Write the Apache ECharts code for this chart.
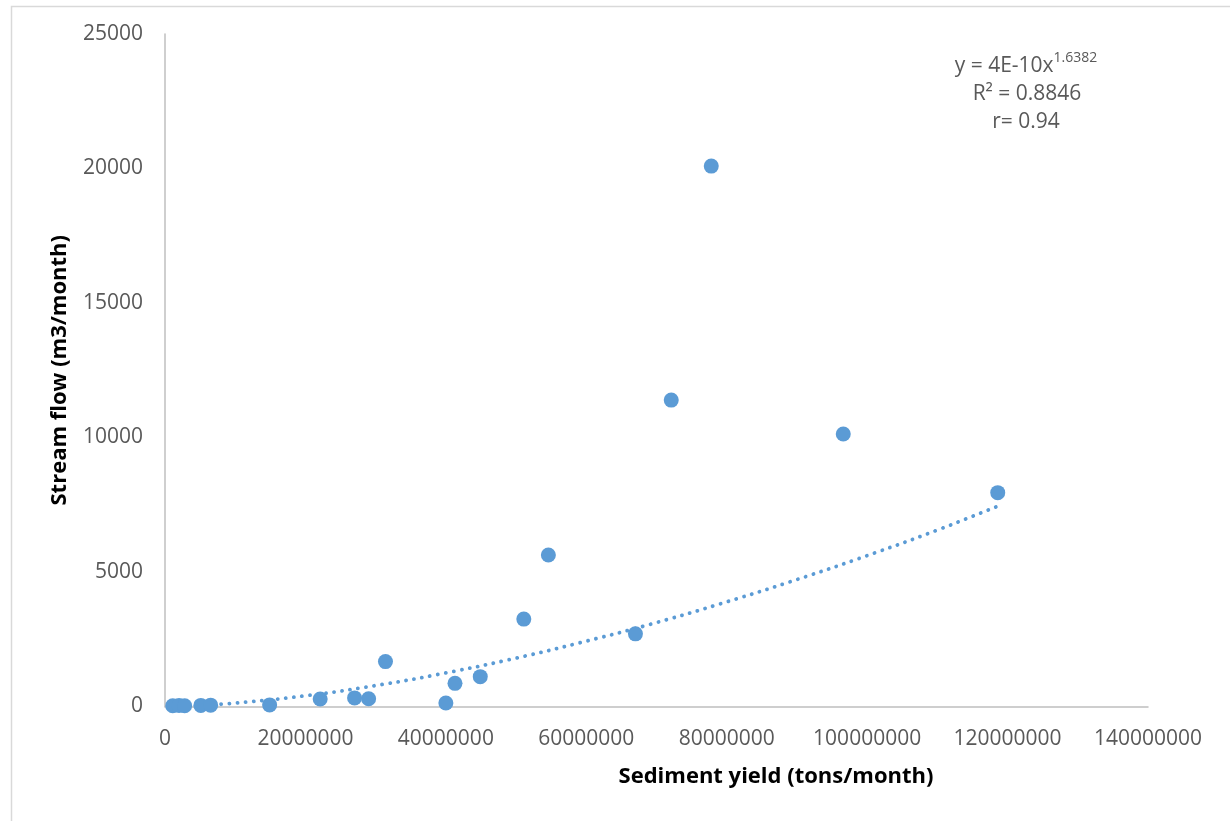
<!DOCTYPE html>
<html>
<head>
<meta charset="utf-8">
<script src="https://cdn.jsdelivr.net/npm/echarts@6/dist/echarts.min.js"></script>
<style>
html,body{margin:0;padding:0;background:#fff;}
#chart{width:1230px;height:821px;}
</style>
</head>
<body>
<div id="chart"></div>
<script>
// Observed points: sediment yield (tons/month) vs stream flow (m3/month)
const sedimentYield = [1100000, 2000000, 2800000, 5100000, 6500000, 14900000, 22100000, 27000000, 29000000, 31400000, 40000000, 41300000, 44900000, 51100000, 54600000, 67000000, 72100000, 77800000, 96600000, 118600000];
const streamFlow    = [30, 40, 30, 40, 50, 60, 280, 320, 290, 1670, 130, 860, 1110, 3250, 5630, 2700, 11390, 20090, 10130, 7950];

// Power trendline values
const trendX = [1100000, 5000000, 10000000, 20000000, 30000000, 40000000, 50000000, 60000000, 70000000, 80000000, 90000000, 100000000, 110000000, 118600000];
const trendY = [4, 41, 129, 400, 780, 1250, 1800, 2430, 3120, 3890, 4720, 5610, 6560, 7450];

const xTicks = {min: 0, max: 140000000, interval: 20000000};
const yTicks = {min: 0, max: 25000, interval: 5000};

const equationLines = ['y = 4E-10x', '1.6382', 'R² = 0.8846', 'r= 0.94'];
const xTitle = 'Sediment yield (tons/month)';
const yTitle = 'Stream flow (m3/month)';

const FONT = '"Open Sans", sans-serif';
const BLUE = '#5B9BD5';

const chart = echarts.init(document.getElementById('chart'), null, {renderer: 'canvas'});
chart.setOption({
  animation: false,
  backgroundColor: '#ffffff',
  grid: {left: 165, top: 34, right: 82, bottom: 114.5, containLabel: false},
  xAxis: {
    type: 'value', min: xTicks.min, max: xTicks.max, interval: xTicks.interval,
    axisLine: {show: true, lineStyle: {color: '#BFBFBF', width: 1.5}},
    axisTick: {show: false},
    splitLine: {show: false},
    axisLabel: {fontFamily: FONT, fontSize: 21, color: '#595959', margin: 22, formatter: v => String(v)}
  },
  yAxis: {
    type: 'value', min: yTicks.min, max: yTicks.max, interval: yTicks.interval,
    name: yTitle, nameLocation: 'middle', nameGap: 94, nameRotate: 90,
    nameTextStyle: {fontFamily: FONT, fontSize: 22, fontWeight: 'bold', color: '#000'},
    axisLine: {show: true, lineStyle: {color: '#BFBFBF', width: 1.5}},
    axisTick: {show: false},
    splitLine: {show: false},
    axisLabel: {fontFamily: FONT, fontSize: 21, color: '#595959', margin: 22, formatter: v => String(v)}
  },
  series: [
    {
      type: 'line',
      data: trendX.map((x, i) => [x, trendY[i]]),
      smooth: true,
      showSymbol: false,
      symbol: 'none',
      lineStyle: {color: BLUE, width: 3.8, type: [0.1, 8], cap: 'round'},
      z: 2
    },
    {
      type: 'scatter',
      data: sedimentYield.map((x, i) => [x, streamFlow[i]]),
      symbolSize: 15,
      itemStyle: {color: BLUE, opacity: 1},
      z: 3
    }
  ],
  graphic: [
    {type: 'rect', left: 9, top: 4, shape: {width: 1240, height: 830}, style: {fill: 'none', stroke: '#D9D9D9', lineWidth: 1.5}, silent: true},
    {type: 'text', x: 776, y: 777, style: {text: xTitle, fontFamily: FONT, fontSize: 22, fontWeight: 'bold', fill: '#000', textAlign: 'center', textVerticalAlign: 'middle'}},
    {
      type: 'text', x: 1026, y: 64,
      style: {
        text: '{a|' + equationLines[0] + '}{s|' + equationLines[1] + '}',
        textAlign: 'center', textVerticalAlign: 'middle',
        rich: {
          a: {fontFamily: FONT, fontSize: 21, fill: '#595959', verticalAlign: 'bottom', lineHeight: 26},
          s: {fontFamily: FONT, fontSize: 14, fill: '#595959', verticalAlign: 'top', lineHeight: 26, padding: [0, 0, 10, 0]}
        }
      }
    },
    {type: 'text', x: 1027, y: 94, style: {text: equationLines[2], fontFamily: FONT, fontSize: 21, fill: '#595959', textAlign: 'center', textVerticalAlign: 'middle'}},
    {type: 'text', x: 1026, y: 122, style: {text: equationLines[3], fontFamily: FONT, fontSize: 21, fill: '#595959', textAlign: 'center', textVerticalAlign: 'middle'}}
  ]
});
</script>
</body>
</html>
